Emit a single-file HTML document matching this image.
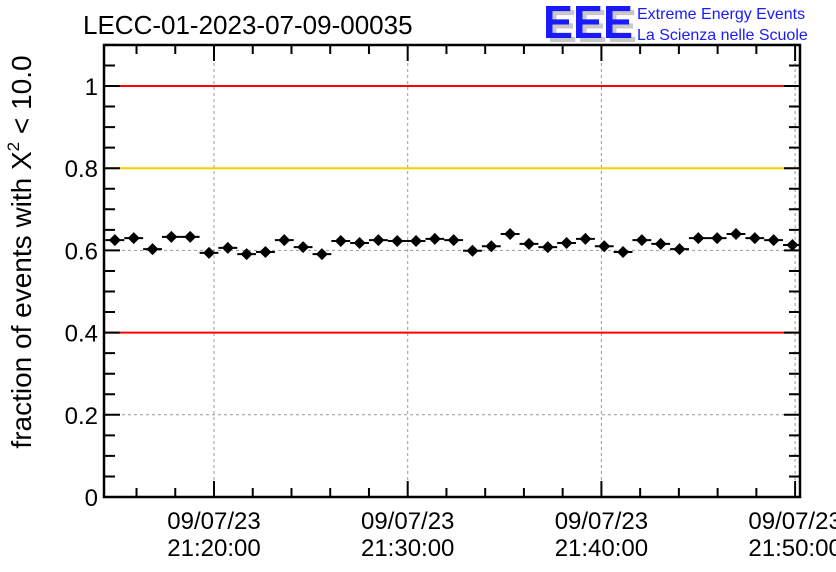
<!DOCTYPE html>
<html><head><meta charset="utf-8"><style>
body{margin:0;background:#fff;}
svg{display:block;font-family:"Liberation Sans",sans-serif;}
</style></head><body>
<svg id="c" width="836" height="572" xmlns="http://www.w3.org/2000/svg">
<text x="83" y="34" font-size="26">LECC-01-2023-07-09-00035</text>
<g>
<text x="547" y="42" font-size="46" font-weight="bold" fill="#c8c8c8" textLength="90" lengthAdjust="spacingAndGlyphs">EEE</text>
<text x="543" y="38" font-size="46" font-weight="bold" fill="#1a1aff" textLength="90" lengthAdjust="spacingAndGlyphs">EEE</text>
<text x="637" y="19" font-size="16" fill="#1a1aff">Extreme Energy Events</text>
<text x="637" y="40" font-size="16" fill="#1a1aff">La Scienza nelle Scuole</text>
</g>
<text transform="translate(31,252) rotate(-90)" text-anchor="middle" font-size="28">fraction of events with Χ<tspan dy="-12" font-size="17">2</tspan><tspan dy="12"> &lt; 10.0</tspan></text>
<g id="grid"></g><g id="lines"></g><g id="pts"></g><g id="axes"></g>
</svg>
<script>
// data
const startSec = 14*60+53; // seconds after 21:00:00 for first point
const stepSec = 58.3;
const values = [0.625,0.630,0.603,0.633,0.633,0.594,0.606,0.591,0.596,0.625,0.608,0.591,0.623,0.618,0.625,0.623,0.623,0.628,0.625,0.599,0.610,0.640,0.616,0.608,0.618,0.628,0.610,0.596,0.625,0.616,0.603,0.630,0.630,0.640,0.630,0.625,0.613];
const yErr = [0.01];
const refLines = [1.0,0.8,0.4];
const refColors = ["#ff0000","#ffcc00","#ff0000"];
const yTickLabels = ["0","0.2","0.4","0.6","0.8","1"];
const yTickVals = [0,0.2,0.4,0.6,0.8,1.0];
const xTickMins = [20,30,40,50];
const xTickLabels = ["21:20:00","21:30:00","21:40:00","21:50:00"];
const dateLabel = "09/07/23";

const L=104,R=800,T=45,B=497;
const ys=v=>B-v*(B-86)/1.0;
const xs=s=>214+(s-1200)*(193.7/600);
const NS="http://www.w3.org/2000/svg";
function mk(p,tag,at){const e=document.createElementNS(NS,tag);for(const k in at)e.setAttribute(k,at[k]);document.getElementById(p).appendChild(e);return e;}

// grid
xTickMins.forEach(m=>{const x=xs(m*60);const e=mk('grid','line',{x1:x,x2:x,y1:T,y2:B,stroke:'#999','stroke-dasharray':'3,3','stroke-width':1});

});
[0.2,0.6].forEach(v=>{const e=mk('grid','line',{x1:L,x2:R,y1:ys(v),y2:ys(v),stroke:'#999','stroke-dasharray':'3,3','stroke-width':1});

});
refLines.forEach((v,i)=>{const e=mk('lines','line',{x1:L,x2:R,y1:ys(v),y2:ys(v),stroke:refColors[i],'stroke-width':2});

});

// points
values.forEach((v,i)=>{const s=startSec+i*stepSec;const x=xs(s),y=ys(v);const hw=stepSec/2*193.7/600;
const g=document.createElementNS(NS,'g');document.getElementById('pts').appendChild(g);


const a=(t,at)=>{const e=document.createElementNS(NS,t);for(const k in at)e.setAttribute(k,at[k]);g.appendChild(e);};
a('line',{x1:Math.max(L,x-hw),x2:Math.min(R,x+hw),y1:y,y2:y,stroke:'#000','stroke-width':2});
a('line',{x1:x,x2:x,y1:ys(v+yErr[0]),y2:ys(v-yErr[0]),stroke:'#000','stroke-width':2});
a('path',{d:`M${x-6},${y}L${x},${y-6}L${x+6},${y}L${x},${y+6}Z`,fill:'#000'});
});

// axes
const ax=mk('axes','path',{d:`M${L},${T}V${B}H${R}V${T}Z`,fill:'none',stroke:'#000','stroke-width':2.5});


let d='';
for(let k=0;k<=22;k++){const v=k*0.05;const y=ys(v);const len=(k%4===0)?16:11;d+=`M${L},${y}h${len}M${R},${y}h${-len}`;}
for(let m=14;m<=52;m+=2){const x=xs(m*60);if(x<L||x>R)continue;const len=(m%10===0)?16:9;d+=`M${x},${B}v${-len}M${x},${T}v${len}`;}
const tk=mk('axes','path',{d:d,fill:'none',stroke:'#000','stroke-width':2});


yTickVals.forEach((v,i)=>{const t=mk('axes','text',{x:L-6,y:ys(v)+9,'text-anchor':'end','font-size':24});t.textContent=yTickLabels[i];

});
xTickMins.forEach((m,i)=>{const x=xs(m*60);
const t1=mk('axes','text',{x:x,y:529,'text-anchor':'middle','font-size':24});t1.textContent=dateLabel;


const t2=mk('axes','text',{x:x,y:556,'text-anchor':'middle','font-size':24});t2.textContent=xTickLabels[i];

});
</script>
</body></html>
